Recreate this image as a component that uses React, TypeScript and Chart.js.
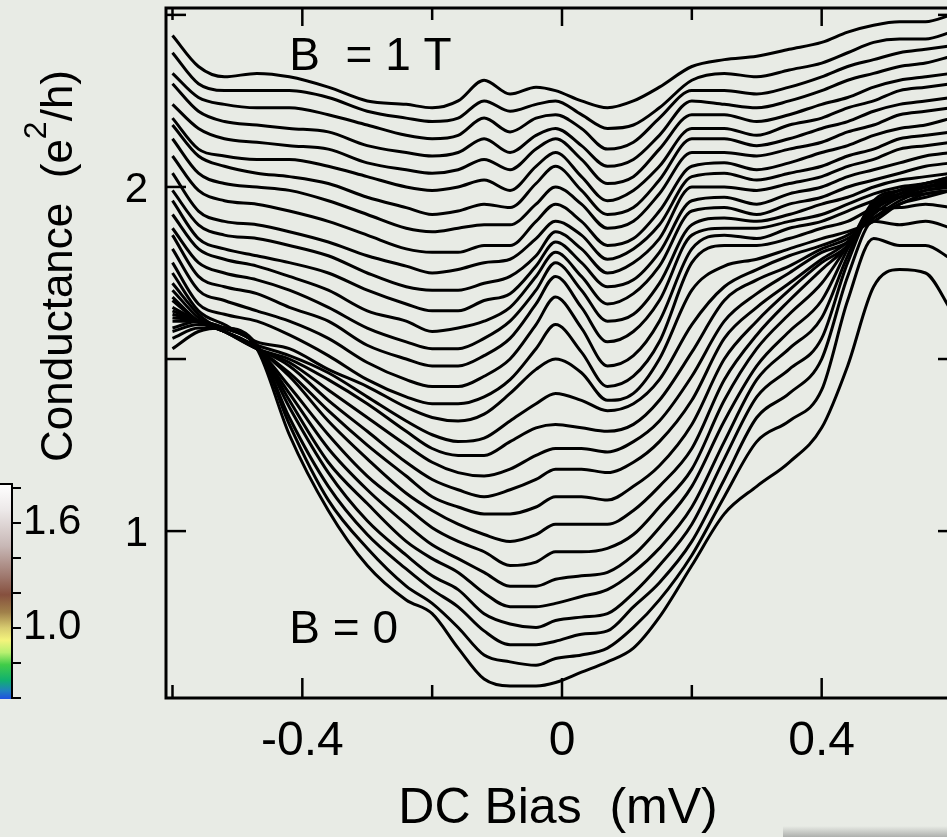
import React, { useEffect, useRef } from 'react';
import { Chart, registerables } from 'chart.js';

Chart.register(...registerables);

// DC bias sample points (mV) shared by every sweep
const biasMV = [-0.6, -0.56, -0.52, -0.47, -0.42, -0.36, -0.3, -0.24, -0.2, -0.16, -0.12, -0.08, -0.04, -0.01, 0.03, 0.07, 0.11, 0.15, 0.2, 0.25, 0.3, 0.35, 0.4, 0.44, 0.48, 0.52, 0.56, 0.6];

// Differential conductance (e^2/h), field sweeps from B = 1 T (sweep00) down to B = 0 (sweep30)
const sweep00 = [2.44, 2.35, 2.32, 2.33, 2.32, 2.29, 2.25, 2.24, 2.23, 2.25, 2.31, 2.27, 2.29, 2.28, 2.25, 2.23, 2.25, 2.29, 2.35, 2.37, 2.38, 2.40, 2.42, 2.45, 2.47, 2.48, 2.48, 2.50];
const sweep01 = [2.39, 2.30, 2.28, 2.28, 2.28, 2.26, 2.22, 2.20, 2.19, 2.20, 2.25, 2.22, 2.24, 2.25, 2.21, 2.17, 2.18, 2.23, 2.31, 2.33, 2.32, 2.34, 2.36, 2.39, 2.42, 2.43, 2.43, 2.45];
const sweep02 = [2.33, 2.26, 2.24, 2.23, 2.23, 2.21, 2.18, 2.15, 2.14, 2.15, 2.20, 2.16, 2.20, 2.21, 2.17, 2.11, 2.13, 2.20, 2.28, 2.28, 2.27, 2.29, 2.32, 2.35, 2.37, 2.39, 2.40, 2.41];
const sweep03 = [2.30, 2.22, 2.19, 2.18, 2.17, 2.16, 2.12, 2.10, 2.09, 2.10, 2.14, 2.10, 2.15, 2.17, 2.12, 2.06, 2.08, 2.15, 2.25, 2.24, 2.23, 2.25, 2.28, 2.31, 2.33, 2.35, 2.36, 2.38];
const sweep04 = [2.24, 2.17, 2.14, 2.13, 2.12, 2.11, 2.07, 2.05, 2.04, 2.05, 2.08, 2.05, 2.11, 2.14, 2.08, 2.01, 2.03, 2.11, 2.21, 2.21, 2.19, 2.21, 2.24, 2.26, 2.29, 2.31, 2.32, 2.33];
const sweep05 = [2.20, 2.11, 2.09, 2.08, 2.08, 2.06, 2.03, 2.00, 1.99, 2.00, 2.02, 1.99, 2.06, 2.10, 2.03, 1.96, 1.99, 2.06, 2.17, 2.17, 2.15, 2.18, 2.20, 2.23, 2.25, 2.28, 2.29, 2.30];
const sweep06 = [2.18, 2.09, 2.06, 2.04, 2.03, 2.01, 1.97, 1.94, 1.92, 1.93, 1.95, 1.94, 2.01, 2.06, 1.99, 1.92, 1.94, 2.02, 2.14, 2.14, 2.12, 2.14, 2.17, 2.19, 2.22, 2.24, 2.25, 2.26];
const sweep07 = [2.14, 2.04, 2.01, 2.00, 1.99, 1.96, 1.92, 1.88, 1.87, 1.88, 1.89, 1.89, 1.95, 2.00, 1.95, 1.88, 1.90, 1.98, 2.10, 2.10, 2.09, 2.11, 2.13, 2.16, 2.18, 2.21, 2.22, 2.23];
const sweep08 = [2.09, 1.99, 1.96, 1.95, 1.93, 1.90, 1.86, 1.82, 1.81, 1.81, 1.83, 1.83, 1.90, 1.95, 1.90, 1.83, 1.85, 1.93, 2.06, 2.07, 2.05, 2.07, 2.10, 2.12, 2.15, 2.17, 2.18, 2.20];
const sweep09 = [2.04, 1.93, 1.90, 1.89, 1.87, 1.84, 1.80, 1.77, 1.75, 1.76, 1.78, 1.79, 1.85, 1.90, 1.86, 1.79, 1.82, 1.89, 2.03, 2.04, 2.02, 2.04, 2.06, 2.09, 2.11, 2.14, 2.15, 2.16];
const sweep10 = [1.99, 1.89, 1.86, 1.85, 1.83, 1.80, 1.75, 1.71, 1.70, 1.70, 1.72, 1.74, 1.80, 1.87, 1.82, 1.75, 1.78, 1.85, 2.00, 2.00, 1.99, 2.01, 2.03, 2.06, 2.08, 2.11, 2.12, 2.13];
const sweep11 = [1.96, 1.85, 1.82, 1.80, 1.78, 1.75, 1.70, 1.66, 1.64, 1.64, 1.67, 1.69, 1.77, 1.84, 1.78, 1.71, 1.73, 1.81, 1.96, 1.97, 1.95, 1.98, 2.00, 2.03, 2.05, 2.07, 2.09, 2.10];
const sweep12 = [1.92, 1.82, 1.79, 1.77, 1.74, 1.70, 1.64, 1.61, 1.58, 1.59, 1.61, 1.65, 1.74, 1.81, 1.74, 1.66, 1.69, 1.77, 1.93, 1.94, 1.92, 1.95, 1.97, 2.00, 2.02, 2.04, 2.06, 2.07];
const sweep13 = [1.88, 1.78, 1.75, 1.73, 1.70, 1.65, 1.59, 1.55, 1.53, 1.53, 1.56, 1.61, 1.70, 1.78, 1.70, 1.61, 1.63, 1.72, 1.89, 1.91, 1.90, 1.92, 1.95, 1.97, 2.00, 2.02, 2.03, 2.04];
const sweep14 = [1.86, 1.74, 1.71, 1.69, 1.65, 1.61, 1.54, 1.50, 1.48, 1.48, 1.51, 1.56, 1.66, 1.74, 1.65, 1.55, 1.58, 1.67, 1.86, 1.88, 1.88, 1.90, 1.92, 1.95, 1.98, 2.00, 2.01, 2.03];
const sweep15 = [1.82, 1.70, 1.67, 1.64, 1.61, 1.56, 1.49, 1.44, 1.42, 1.42, 1.45, 1.50, 1.60, 1.68, 1.59, 1.48, 1.51, 1.61, 1.82, 1.86, 1.85, 1.88, 1.90, 1.93, 1.96, 1.98, 2.00, 2.01];
const sweep16 = [1.78, 1.66, 1.63, 1.61, 1.57, 1.51, 1.44, 1.39, 1.37, 1.37, 1.39, 1.44, 1.53, 1.60, 1.52, 1.42, 1.45, 1.55, 1.78, 1.83, 1.83, 1.85, 1.88, 1.90, 1.94, 1.97, 1.99, 2.00];
const sweep17 = [1.75, 1.64, 1.60, 1.55, 1.53, 1.47, 1.42, 1.36, 1.33, 1.32, 1.34, 1.40, 1.47, 1.50, 1.46, 1.38, 1.40, 1.50, 1.70, 1.77, 1.79, 1.82, 1.85, 1.87, 1.90, 1.95, 1.97, 1.99];
const sweep18 = [1.72, 1.63, 1.58, 1.54, 1.51, 1.46, 1.39, 1.32, 1.28, 1.26, 1.27, 1.32, 1.37, 1.40, 1.38, 1.35, 1.37, 1.44, 1.60, 1.71, 1.76, 1.80, 1.83, 1.86, 1.91, 1.95, 1.98, 1.99];
const sweep19 = [1.70, 1.62, 1.58, 1.53, 1.50, 1.44, 1.37, 1.29, 1.24, 1.22, 1.22, 1.26, 1.30, 1.31, 1.30, 1.29, 1.31, 1.38, 1.52, 1.67, 1.73, 1.77, 1.82, 1.85, 1.91, 1.96, 1.99, 2.00];
const sweep20 = [1.68, 1.61, 1.58, 1.53, 1.49, 1.41, 1.33, 1.25, 1.20, 1.17, 1.16, 1.18, 1.22, 1.24, 1.24, 1.23, 1.26, 1.32, 1.45, 1.61, 1.69, 1.75, 1.81, 1.84, 1.92, 1.97, 2.00, 2.01];
const sweep21 = [1.67, 1.61, 1.58, 1.53, 1.48, 1.38, 1.29, 1.20, 1.15, 1.12, 1.10, 1.12, 1.15, 1.18, 1.18, 1.17, 1.20, 1.26, 1.38, 1.56, 1.65, 1.72, 1.79, 1.84, 1.93, 1.98, 2.00, 2.01];
const sweep22 = [1.65, 1.61, 1.58, 1.53, 1.46, 1.35, 1.25, 1.16, 1.10, 1.07, 1.05, 1.05, 1.07, 1.10, 1.10, 1.09, 1.13, 1.19, 1.31, 1.50, 1.61, 1.70, 1.78, 1.83, 1.94, 1.98, 2.00, 2.02];
const sweep23 = [1.64, 1.61, 1.58, 1.53, 1.45, 1.32, 1.21, 1.11, 1.06, 1.02, 0.99, 0.97, 0.99, 1.02, 1.02, 1.02, 1.06, 1.13, 1.24, 1.44, 1.57, 1.67, 1.76, 1.83, 1.95, 1.99, 2.01, 2.02];
const sweep24 = [1.63, 1.61, 1.58, 1.53, 1.42, 1.28, 1.16, 1.07, 1.01, 0.97, 0.94, 0.90, 0.91, 0.94, 0.94, 0.95, 0.99, 1.07, 1.18, 1.38, 1.53, 1.63, 1.72, 1.83, 1.95, 1.99, 2.01, 2.03];
const sweep25 = [1.62, 1.61, 1.58, 1.53, 1.40, 1.24, 1.12, 1.02, 0.96, 0.92, 0.88, 0.84, 0.84, 0.86, 0.87, 0.88, 0.93, 1.01, 1.13, 1.32, 1.48, 1.58, 1.67, 1.82, 1.96, 1.99, 2.00, 2.01];
const sweep26 = [1.61, 1.61, 1.59, 1.54, 1.38, 1.20, 1.08, 0.97, 0.92, 0.88, 0.82, 0.78, 0.78, 0.79, 0.81, 0.83, 0.88, 0.95, 1.07, 1.26, 1.44, 1.53, 1.62, 1.80, 1.95, 1.97, 1.98, 1.99];
const sweep27 = [1.59, 1.61, 1.59, 1.54, 1.36, 1.17, 1.03, 0.93, 0.87, 0.83, 0.76, 0.73, 0.72, 0.74, 0.75, 0.76, 0.82, 0.90, 1.02, 1.21, 1.39, 1.47, 1.56, 1.78, 1.93, 1.94, 1.95, 1.94];
const sweep28 = [1.58, 1.60, 1.59, 1.54, 1.33, 1.13, 0.99, 0.89, 0.83, 0.78, 0.71, 0.67, 0.67, 0.68, 0.70, 0.71, 0.78, 0.85, 0.97, 1.15, 1.33, 1.40, 1.50, 1.74, 1.90, 1.89, 1.90, 1.88];
const sweep29 = [1.56, 1.59, 1.59, 1.54, 1.31, 1.09, 0.95, 0.84, 0.79, 0.72, 0.64, 0.62, 0.61, 0.63, 0.64, 0.66, 0.72, 0.80, 0.93, 1.10, 1.26, 1.32, 1.41, 1.67, 1.85, 1.83, 1.83, 1.79];
const sweep30 = [1.53, 1.58, 1.59, 1.53, 1.28, 1.06, 0.90, 0.80, 0.76, 0.66, 0.57, 0.55, 0.55, 0.56, 0.59, 0.62, 0.66, 0.75, 0.90, 1.05, 1.13, 1.20, 1.30, 1.48, 1.71, 1.76, 1.75, 1.64];

const sweeps = [
  sweep00, sweep01, sweep02, sweep03, sweep04, sweep05, sweep06, sweep07, sweep08, sweep09,
  sweep10, sweep11, sweep12, sweep13, sweep14, sweep15, sweep16, sweep17, sweep18, sweep19,
  sweep20, sweep21, sweep22, sweep23, sweep24, sweep25, sweep26, sweep27, sweep28, sweep29, sweep30,
];

// Axis ticks
const xMajorTicks = [-0.4, 0, 0.4];
const xTickLabels = ['-0.4', '0', '0.4'];
const xMinorTicks = [-0.6, -0.2, 0.2, 0.6];
const yMajorTicks = [1, 2];
const yTickLabels = ['1', '2'];
const yMinorTicks = [1.5, 2.5];

// Colour scale beside the panel
const cbTickValues = [1.8, 1.6, 1.4, 1.2, 1.0, 0.8, 0.6];
const cbLabelValues = [1.6, 1.0];
const cbLabels = ['1.6', '1.0'];
const cbStopValues = [1.82, 1.67, 1.47, 1.3, 1.19, 1.09, 1.0, 0.93, 0.86, 0.79, 0.7, 0.64, 0.59];
const cbStopColors = ['#ffffff', '#ece8e8', '#c8b8b6', '#a07a70', '#86503e', '#a0804a', '#d8cc70', '#f4f47c', '#b8f070', '#40cc48', '#10b070', '#2080c0', '#2050e0'];

const BG = '#e8ebe5';
const FONT = '"Liberation Sans", Arial, Helvetica, sans-serif';

const labels = [
  { text: 'B  = 1 T', x: -0.42, y: 2.34 },
  { text: 'B = 0', x: -0.42, y: 0.675 },
];

const decorPlugin = {
  id: 'decor',
  beforeDraw(chart: any) {
    const { ctx, width, height } = chart;
    ctx.save();
    ctx.fillStyle = BG;
    ctx.fillRect(0, 0, width, height);
    ctx.restore();
  },
  afterDraw(chart: any) {
    const { ctx, chartArea: a } = chart;
    const xs = chart.scales.x;
    const ys = chart.scales.y;
    ctx.save();

    // frame
    ctx.strokeStyle = '#000';
    ctx.lineWidth = 3;
    ctx.strokeRect(a.left, a.top, a.right - a.left, a.bottom - a.top);

    const seg = (x1: number, y1: number, x2: number, y2: number) => {
      ctx.beginPath();
      ctx.moveTo(x1, y1);
      ctx.lineTo(x2, y2);
      ctx.stroke();
    };

    // inward ticks on all four sides
    ctx.lineWidth = 2.5;
    xMajorTicks.forEach((v) => {
      const px = xs.getPixelForValue(v);
      seg(px, a.bottom, px, a.bottom - 20);
      seg(px, a.top, px, a.top + 18);
    });
    xMinorTicks.forEach((v) => {
      const px = xs.getPixelForValue(v);
      seg(px, a.bottom, px, a.bottom - 13);
      seg(px, a.top, px, a.top + 12);
    });
    [...yMajorTicks, ...yMinorTicks].forEach((v) => {
      const py = ys.getPixelForValue(v);
      seg(a.left, py, a.left + 20, py);
      seg(a.right, py, a.right - 20, py);
    });

    // tick labels
    ctx.fillStyle = '#000';
    ctx.textBaseline = 'alphabetic';
    ctx.font = `48px ${FONT}`;
    ctx.textAlign = 'center';
    xMajorTicks.forEach((v, i) => ctx.fillText(xTickLabels[i], xs.getPixelForValue(v), a.bottom + 57));
    ctx.font = `42px ${FONT}`;
    ctx.textAlign = 'right';
    yMajorTicks.forEach((v, i) => ctx.fillText(yTickLabels[i], a.left - 18, ys.getPixelForValue(v) + 15));

    // x title
    ctx.font = `50px ${FONT}`;
    ctx.textAlign = 'center';
    ctx.fillText('DC Bias  (mV)', (a.left + a.right) / 2 - 4, a.bottom + 125);

    // y title with superscript
    ctx.save();
    ctx.translate(72, 266);
    ctx.rotate(-Math.PI / 2);
    ctx.textAlign = 'left';
    const p1 = 'Conductance  (e';
    const p2 = '2';
    const p3 = '/h)';
    ctx.font = `44px ${FONT}`;
    const w1 = ctx.measureText(p1).width;
    const w3 = ctx.measureText(p3).width;
    ctx.font = `32px ${FONT}`;
    const w2 = ctx.measureText(p2).width;
    let cx = -(w1 + w2 + w3) / 2;
    ctx.font = `44px ${FONT}`;
    ctx.fillText(p1, cx, 0);
    cx += w1;
    ctx.font = `32px ${FONT}`;
    ctx.fillText(p2, cx, -26);
    cx += w2;
    ctx.font = `44px ${FONT}`;
    ctx.fillText(p3, cx, 0);
    ctx.restore();

    // in-panel annotations
    ctx.font = `46px ${FONT}`;
    ctx.textAlign = 'left';
    labels.forEach((l) => ctx.fillText(l.text, xs.getPixelForValue(l.x), ys.getPixelForValue(l.y)));

    // colour scale strip
    const cbY = (v: number) => 628 - (v - 1.0) * 175;
    const top = 484;
    const bottom = 699;
    const grad = ctx.createLinearGradient(0, top, 0, bottom);
    cbStopValues.forEach((v, i) => {
      const t = Math.min(1, Math.max(0, (cbY(v) - top) / (bottom - top)));
      grad.addColorStop(t, cbStopColors[i]);
    });
    ctx.fillStyle = grad;
    ctx.fillRect(0, top, 12, bottom - top);
    ctx.strokeStyle = '#000';
    ctx.lineWidth = 2;
    seg(12, top - 1, 12, bottom);
    seg(0, top, 13, top);
    cbTickValues.forEach((v) => seg(12, cbY(v), 21, cbY(v)));
    ctx.fillStyle = '#000';
    ctx.font = `42px ${FONT}`;
    ctx.textAlign = 'left';
    cbLabelValues.forEach((v, i) => ctx.fillText(cbLabels[i], 23, cbY(v) + 11));

    // soft grey edge at the lower right
    const sh = ctx.createLinearGradient(0, 826, 0, 837);
    sh.addColorStop(0, 'rgba(150,152,150,0)');
    sh.addColorStop(1, 'rgba(150,152,150,0.7)');
    ctx.fillStyle = sh;
    ctx.fillRect(783, 826, 170, 11);

    ctx.restore();
  },
};

export default function App() {
  const ref = useRef<HTMLCanvasElement>(null);

  useEffect(() => {
    const canvas = ref.current;
    if (!canvas) return;
    const chart = new Chart(canvas, {
      type: 'line',
      data: {
        datasets: sweeps.map((g) => ({
          data: g.map((v, k) => ({ x: biasMV[k], y: v })),
          borderColor: '#000',
          borderWidth: 3,
          pointRadius: 0,
          fill: false,
          cubicInterpolationMode: 'monotone' as const,
        })),
      },
      options: {
        animation: false,
        responsive: false,
        devicePixelRatio: 1,
        events: [],
        layout: { padding: { left: 166, top: 8, right: 42, bottom: 139 } },
        scales: {
          x: { type: 'linear', min: -0.61, max: 0.61, display: false },
          y: { type: 'linear', min: 0.515, max: 2.52, display: false },
        },
        plugins: {
          legend: { display: false },
          tooltip: { enabled: false },
        },
      },
      plugins: [decorPlugin],
    });
    return () => chart.destroy();
  }, []);

  return (
    <div
      style={{
        position: 'fixed',
        left: 0,
        top: 0,
        width: 947,
        height: 837,
        overflow: 'hidden',
        background: BG,
      }}
    >
      <canvas
        ref={ref}
        width={1000}
        height={837}
        style={{ position: 'absolute', left: 0, top: 0, width: 1000, height: 837 }}
      />
    </div>
  );
}
